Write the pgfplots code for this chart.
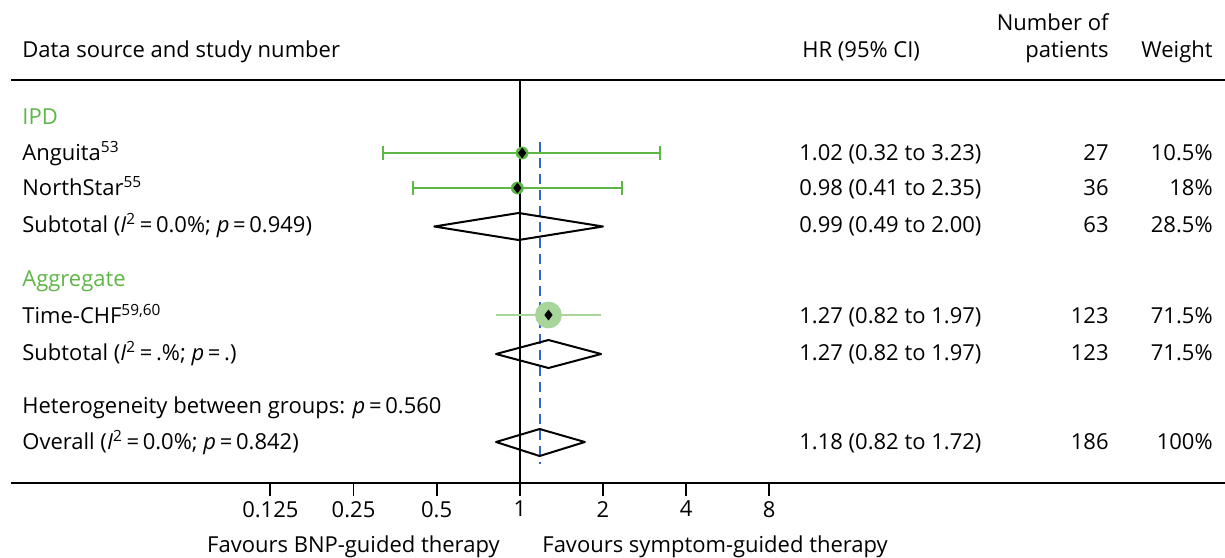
\documentclass[border=0pt]{standalone}
\usepackage{fontspec}
\setmainfont{Open Sans}
\usepackage{pgfplots}
\pgfplotsset{compat=1.18}
\definecolor{grn}{HTML}{5DB646}
\definecolor{lgrn}{HTML}{A8D59A}
\definecolor{dblue}{HTML}{3366CC}
\newcommand{\eq}{\,=\,}
\begin{document}
\begin{tikzpicture}[font=\fontsize{11}{13}\selectfont]
% ---------- pixel layout axis (texts and rules) ----------
\begin{axis}[at={(0,0)},anchor=south west,width=612.5pt,height=278.5pt,scale only axis,
  xmin=0,xmax=1225,ymin=0,ymax=557,y dir=reverse,hide axis,clip=false]
\draw[line width=1pt] (axis cs:11,80) -- (axis cs:1225,80);
\draw[line width=1pt] (axis cs:11,483) -- (axis cs:1225,483);
% headers
\node[anchor=base west,inner sep=0pt] at (axis cs:22,57) {Data source and study number};
\node[anchor=base west,inner sep=0pt] at (axis cs:802,57) {HR (95\% CI)};
\node[anchor=base east,inner sep=0pt] at (axis cs:1109,31) {Number of};
\node[anchor=base east,inner sep=0pt] at (axis cs:1109,57) {patients};
\node[anchor=base east,inner sep=0pt] at (axis cs:1213,57) {Weight};
% left column
\node[anchor=base west,inner sep=0pt,text=grn] at (axis cs:22,124) {IPD};
\node[anchor=base west,inner sep=0pt] at (axis cs:22,160) {Anguita\textsuperscript{53}};
\node[anchor=base west,inner sep=0pt] at (axis cs:22,195) {NorthStar\textsuperscript{55}};
\node[anchor=base west,inner sep=0pt] at (axis cs:22,232) {Subtotal (\textit{I}\textsuperscript{2}\eq0.0\%; \textit{p}\eq0.949)};
\node[anchor=base west,inner sep=0pt,text=grn] at (axis cs:22,286) {Aggregate};
\node[anchor=base west,inner sep=0pt] at (axis cs:22,323) {Time-CHF\textsuperscript{59,60}};
\node[anchor=base west,inner sep=0pt] at (axis cs:22,360) {Subtotal (\textit{I}\textsuperscript{2}\eq.\%; \textit{p}\eq.)};
\node[anchor=base west,inner sep=0pt] at (axis cs:22,413) {Heterogeneity between groups: \textit{p}\eq0.560};
\node[anchor=base west,inner sep=0pt] at (axis cs:22,449) {Overall (\textit{I}\textsuperscript{2}\eq0.0\%; \textit{p}\eq0.842)};
% HR column
\node[anchor=base west,inner sep=0pt] at (axis cs:799,160) {1.02 (0.32 to 3.23)};
\node[anchor=base west,inner sep=0pt] at (axis cs:799,195) {0.98 (0.41 to 2.35)};
\node[anchor=base west,inner sep=0pt] at (axis cs:799,232) {0.99 (0.49 to 2.00)};
\node[anchor=base west,inner sep=0pt] at (axis cs:799,323) {1.27 (0.82 to 1.97)};
\node[anchor=base west,inner sep=0pt] at (axis cs:799,360) {1.27 (0.82 to 1.97)};
\node[anchor=base west,inner sep=0pt] at (axis cs:799,449) {1.18 (0.82 to 1.72)};
% N column
\node[anchor=base east,inner sep=0pt] at (axis cs:1109,160) {27};
\node[anchor=base east,inner sep=0pt] at (axis cs:1109,195) {36};
\node[anchor=base east,inner sep=0pt] at (axis cs:1109,232) {63};
\node[anchor=base east,inner sep=0pt] at (axis cs:1109,323) {123};
\node[anchor=base east,inner sep=0pt] at (axis cs:1109,360) {123};
\node[anchor=base east,inner sep=0pt] at (axis cs:1109,449) {186};
% weight column
\node[anchor=base east,inner sep=0pt] at (axis cs:1213,160) {10.5\%};
\node[anchor=base east,inner sep=0pt] at (axis cs:1213,195) {18\%};
\node[anchor=base east,inner sep=0pt] at (axis cs:1213,232) {28.5\%};
\node[anchor=base east,inner sep=0pt] at (axis cs:1213,323) {71.5\%};
\node[anchor=base east,inner sep=0pt] at (axis cs:1213,360) {71.5\%};
\node[anchor=base east,inner sep=0pt] at (axis cs:1213,449) {100\%};
% bottom labels
\node[anchor=base east,inner sep=0pt] at (axis cs:500,552) {Favours BNP-guided therapy};
\node[anchor=base west,inner sep=0pt] at (axis cs:542,552) {Favours symptom-guided therapy};
\end{axis}
% ---------- data axis (log2 HR scale) ----------
\begin{axis}[at={(5.5pt,37pt)},anchor=south west,width=607pt,height=241.5pt,scale only axis,
  xmode=log,log basis x=2,xmin=0.01438,xmax=357.5,ymin=0,ymax=483,y dir=reverse,
  clip=false,axis line style={draw=none},ytick=\empty,
  xtick={0.125,0.25,0.5,1,2,4,8},xticklabels={0.125,0.25,0.5,1,2,4,8},
  xtick pos=lower,tick align=outside,major tick length=6.5pt,
  every tick/.style={black,line width=0.9pt},
  xticklabel style={yshift=1pt}]
\draw[line width=1pt] (axis cs:1,80) -- (axis cs:1,483);
\addplot[color=dblue,line width=1.1pt,dash pattern=on 5pt off 3pt] coordinates {(1.18,142) (1.18,464)};
% IPD studies
\addplot[grn,line width=1pt,mark=|,mark size=3.5pt,mark options={solid}] coordinates {(0.32,153) (3.23,153)};
\addplot[grn,line width=1pt,mark=|,mark size=3.5pt,mark options={solid}] coordinates {(0.41,188) (2.35,188)};
\addplot[only marks,mark=*,mark size=3pt,grn] coordinates {(1.02,153) (0.98,188)};
\addplot[only marks,mark=diamond*,mark size=2.4pt,black] coordinates {(1.02,153) (0.98,188)};
% Aggregate study
\addplot[lgrn,line width=1pt] coordinates {(0.82,315) (1.97,315)};
\addplot[only marks,mark=*,mark size=6.5pt,lgrn] coordinates {(1.27,315)};
\addplot[only marks,mark=diamond*,mark size=2.4pt,black] coordinates {(1.27,315)};
% pooled diamonds
\addplot[black,line width=1pt,line join=round,line cap=round] coordinates {(0.49,226.5) (0.99,213) (2.00,226.5) (0.99,240) (0.49,226.5)};
\addplot[black,line width=1pt,line join=round,line cap=round] coordinates {(0.82,354) (1.27,340) (1.97,354) (1.27,368) (0.82,354)};
\addplot[black,line width=1pt,line join=round,line cap=round] coordinates {(0.82,442) (1.18,429) (1.72,442) (1.18,456) (0.82,442)};
\end{axis}
\pgfresetboundingbox
\path (0,0) rectangle (612.5pt,278.5pt);
\end{tikzpicture}
\end{document}
